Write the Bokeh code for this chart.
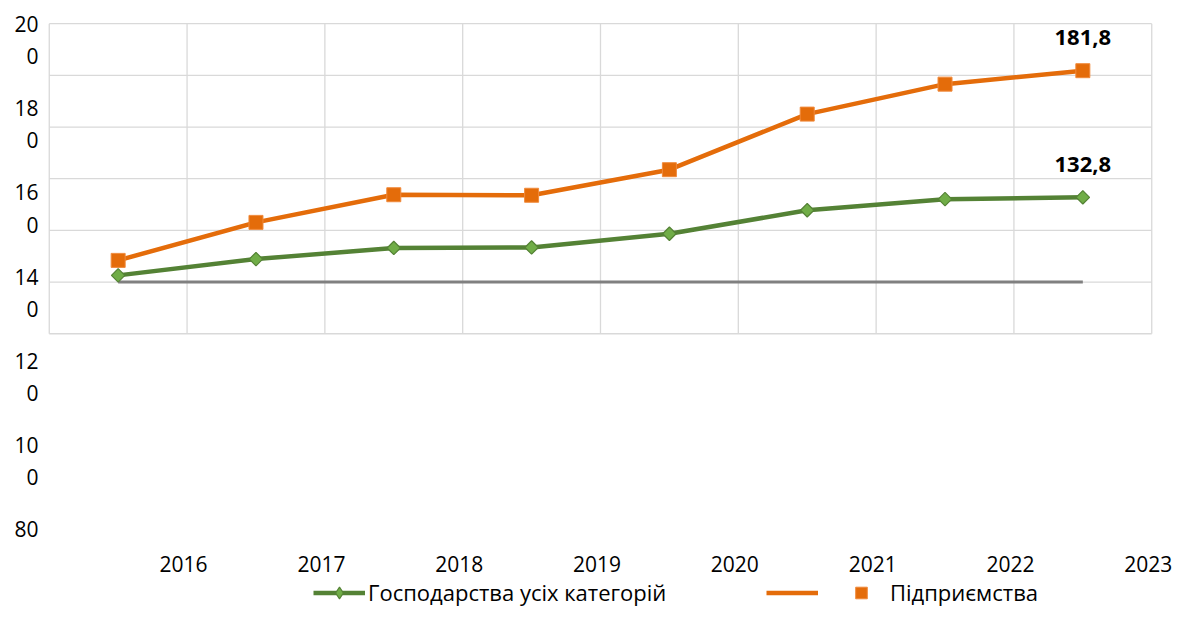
import math
from bokeh.plotting import figure
from bokeh.layouts import column
from bokeh.models import (Range1d, LinearAxis, FixedTicker, Legend, LegendItem,
                          ColumnDataSource)
from bokeh.core.properties import value
from bokeh.embed import file_html
from bokeh.resources import INLINE

# ---------------- data ----------------
years = ["2016", "2017", "2018", "2019", "2020", "2021", "2022", "2023"]
households = [102.6, 108.9, 113.2, 113.4, 118.7, 127.8, 132.1, 132.8]   # Господарства усіх категорій
enterprises = [108.4, 123.1, 133.8, 133.6, 143.5, 165.0, 176.6, 181.8]  # Підприємства
baseline = [100, 100, 100, 100, 100, 100, 100, 100]
y_labels = [200, 180, 160, 140, 120, 100, 80]
name_households = "Господарства усіх категорій"
name_enterprises = "Підприємства"

# ---------------- styles ----------------
FONT = "Open Sans"
GRID = "#D9D9D9"
GREEN_LINE = "#548235"
GREEN_FILL = "#70AD47"
ORANGE = "#E46C0A"
ORANGE_EDGE = "#F08A3C"
GRAY = "#808080"

n = len(years)
xs = [i + 0.5 for i in range(n)]

W = 1173
TOP, FRAME_H, LEFT, FRAME_W = 18, 522, 46, 1108
BOTTOM = 38
LEG_H = 29

p = figure(frame_width=FRAME_W, frame_height=FRAME_H, output_backend="svg",
           toolbar_location=None,
           x_range=Range1d(-0.02, n + 0.02), y_range=Range1d(0, 202),
           x_axis_type=None, y_axis_type=None,
           min_border_left=LEFT, min_border_right=W - LEFT - FRAME_W,
           min_border_top=TOP, min_border_bottom=BOTTOM)
p.outline_line_color = None
p.background_fill_color = "white"
p.border_fill_color = "white"

# gridlines (plot area only spans the y_labels extent)
bounds = list(range(n + 1))
p.segment(x0=bounds, y0=[min(y_labels)] * len(bounds), x1=bounds,
          y1=[max(y_labels)] * len(bounds), line_color=GRID, line_width=1.3)
p.segment(x0=[0] * len(y_labels), y0=y_labels, x1=[n] * len(y_labels), y1=y_labels,
          line_color=GRID, line_width=1.3)

# series
p.line(xs, baseline, line_color=GRAY, line_width=3)
p.line(xs, households, line_color=GREEN_LINE, line_width=4.5)
p.scatter(xs, households, marker="square", angle=math.pi / 4, size=9.5,
          fill_color=GREEN_FILL, line_color=GREEN_LINE, line_width=1.2)
p.line(xs, enterprises, line_color=ORANGE, line_width=4.5)
p.scatter(xs, enterprises, marker="square", size=14,
          fill_color=ORANGE, line_color=ORANGE_EDGE, line_width=1)

# data labels for the last points
lab_src = ColumnDataSource(dict(
    x=[xs[-1], xs[-1]],
    y=[enterprises[-1], households[-1]],
    t=[f"{enterprises[-1]:.1f}".replace(".", ","), f"{households[-1]:.1f}".replace(".", ",")],
))
p.text(x="x", y="y", text="t", source=lab_src, text_font=value(FONT),
       text_font_style="bold", text_font_size="22px", text_align="center",
       text_baseline="middle", y_offset=-33, text_color="black")

# x axis: labels on category boundaries (as in the reference)
xt = [k + 1 - 0.025 for k in range(n)]
xaxis = LinearAxis(ticker=FixedTicker(ticks=xt),
                   major_label_overrides={t: years[k] for k, t in enumerate(xt)},
                   axis_line_color=None, major_tick_line_color=None,
                   major_tick_in=0, major_tick_out=0,
                   minor_tick_line_color=None, major_label_standoff=15,
                   major_label_text_font=FONT, major_label_text_font_size="21px",
                   major_label_text_color="black")
p.add_layout(xaxis, "below")

# y axis: wrapped labels ("20" / "0") spread below the plot area
p.extra_y_ranges = {"lab": Range1d(start=FRAME_H, end=0)}
TOP_PAD, STEP, GAP = 5, 84.17, 32.3
yt, yo = [], {}
for k, v in enumerate(y_labels):
    s = str(v)
    parts = [s[:2], s[2:]] if len(s) > 2 else [s]
    for j, part in enumerate(parts):
        t = int(round(TOP_PAD + k * STEP + j * GAP))
        yt.append(t)
        yo[t] = part
yaxis = LinearAxis(y_range_name="lab", ticker=FixedTicker(ticks=yt),
                   major_label_overrides=yo, axis_line_color=None,
                   major_tick_line_color=None, major_tick_in=0, major_tick_out=0,
                   minor_tick_line_color=None,
                   major_label_standoff=8, major_label_text_font=FONT,
                   major_label_text_font_size="21px", major_label_text_color="black")
p.add_layout(yaxis, "left")

# ---------------- legend strip below the chart ----------------
lf = figure(width=W, height=LEG_H, output_backend="svg", toolbar_location=None,
            x_range=Range1d(0, 1), y_range=Range1d(0, 1),
            x_axis_type=None, y_axis_type=None,
            min_border_left=LEFT, min_border_right=W - LEFT - FRAME_W,
            min_border_top=0, min_border_bottom=0)
lf.outline_line_color = None
lf.border_fill_color = "white"
# proxies for the legend (their data lie outside this strip's ranges)
g_line = lf.line(xs, households, line_color=GREEN_LINE, line_width=4.5)
g_mark = lf.scatter(xs, households, marker="diamond", fill_color=GREEN_FILL,
                    line_color=GREEN_LINE, line_width=1.2)
o_line = lf.line(xs, enterprises, line_color=ORANGE, line_width=4.5)
o_mark = lf.scatter(xs, enterprises, marker="square", fill_color=ORANGE,
                    line_color=ORANGE_EDGE, line_width=1)

PAD = "\u00a0" * 15
legend = Legend(items=[LegendItem(label=name_households + PAD, renderers=[g_line, g_mark]),
                       LegendItem(label="", renderers=[o_line]),
                       LegendItem(label=name_enterprises, renderers=[o_mark])],
                location=(267, 0), orientation="horizontal", padding=0, margin=0,
                border_line_color=None, background_fill_alpha=0,
                label_text_font=FONT, label_text_font_size="22px",
                label_text_color="black", glyph_width=52, glyph_height=LEG_H,
                label_width=0, label_standoff=3, spacing=14)
lf.add_layout(legend, "center")

layout = column(p, lf, spacing=0)
open("out.html", "w").write(file_html(layout, INLINE))
